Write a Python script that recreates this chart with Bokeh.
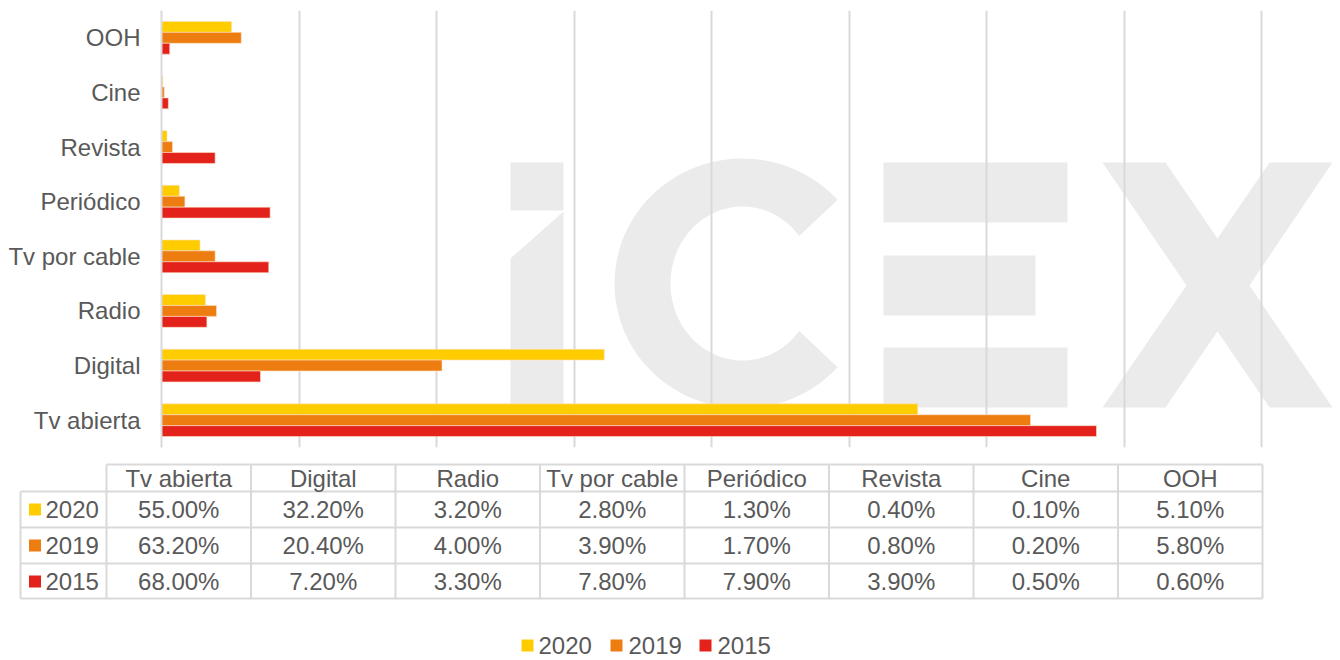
import numpy as np
from bokeh.plotting import figure
from bokeh.models import ColumnDataSource, FactorRange, Range1d, FixedTicker
from bokeh.transform import dodge
from bokeh.core.properties import value
from bokeh.embed import file_html
from bokeh.resources import INLINE

# ---------------- data ----------------
categories = ["Tv abierta", "Digital", "Radio", "Tv por cable", "Periódico", "Revista", "Cine", "OOH"]
series_names = ["2020", "2019", "2015"]
v2020 = [55.0, 32.2, 3.2, 2.8, 1.3, 0.4, 0.1, 5.1]
v2019 = [63.2, 20.4, 4.0, 3.9, 1.7, 0.8, 0.2, 5.8]
v2015 = [68.0, 7.2, 3.3, 7.8, 7.9, 3.9, 0.5, 0.6]
series_values = [v2020, v2019, v2015]
colors = ["#FFCC00", "#EE7D11", "#E3231B"]
grid_ticks = [0, 10, 20, 30, 40, 50, 60, 70, 80]

FONT = value("Liberation Sans")
TXT = "#595959"
LINE = "#D9D9D9"

# ---------------- chart ----------------
W = 1340
H1 = 455
p = figure(width=W, height=H1, output_backend="svg", toolbar_location=None,
           y_range=FactorRange(*categories), x_range=Range1d(0, (W - 161) / 13.75),
           min_border_left=161, min_border_right=0, min_border_top=10, min_border_bottom=8)
p.outline_line_color = None
p.background_fill_color = "white"
p.border_fill_color = "white"
p.xaxis.visible = False
p.ygrid.visible = False
p.xgrid.ticker = FixedTicker(ticks=grid_ticks)
p.xgrid.grid_line_color = LINE
p.xgrid.grid_line_width = 2

p.yaxis.axis_line_color = LINE
p.yaxis.axis_line_width = 2
p.yaxis.major_tick_line_color = None
p.yaxis.minor_tick_line_color = None
p.yaxis.major_label_text_font = "Liberation Sans"
p.yaxis.major_label_text_font_size = "24px"
p.yaxis.major_label_text_color = TXT
p.yaxis.major_label_standoff = 15

# watermark (decoration): page-pixel layout converted to the plot's coordinates
def wx(px):
    return (np.asarray(px, dtype=float) - 161) / 13.75
def wy(py):
    return (447 - np.asarray(py, dtype=float)) / 437 * 8

cx, cy = 742, 283
a_out = np.radians(np.linspace(42, 318, 80))
a_in = np.radians(np.linspace(322, 38, 80))
c_x = list(cx + 128 * np.cos(a_out)) + list(cx + 72 * np.cos(a_in))
c_y = list(cy - 125 * np.sin(a_out)) + list(cy - 77 * np.sin(a_in))
wm_xs = [
    [510, 563, 563, 510],
    [510, 563, 563, 510],
    c_x,
    [883, 1067, 1067, 883],
    [883, 1035, 1035, 883],
    [883, 1067, 1067, 883],
    [1102, 1165, 1217, 1269, 1332, 1249, 1332, 1269, 1217, 1165, 1102, 1186],
]
wm_ys = [
    [162, 162, 210, 210],
    [258, 211, 407, 407],
    c_y,
    [162, 162, 222, 222],
    [255, 255, 315, 315],
    [347, 347, 407, 407],
    [162, 162, 238, 162, 162, 285, 407, 407, 331, 407, 407, 285],
]
p.patches([list(wx(a)) for a in wm_xs], [list(wy(b)) for b in wm_ys],
          fill_color="#EBEBEB", line_color=None, level="image")

src = ColumnDataSource(dict(cat=categories, v2020=v2020, v2019=v2019, v2015=v2015))
offsets = [0.2, 0.0, -0.2]
for name, col, off in zip(series_names, colors, offsets):
    p.hbar(y=dodge("cat", off, range=p.y_range), left=0, right="v" + name, height=0.2,
           source=src, fill_color=col, line_color="#FBE3C8", line_width=0.6)

# ---------------- data table + legend ----------------
H2 = 660 - H1
def px2x(px):
    return (px - 106) / 144.5

t = figure(width=W, height=H2, output_backend="svg", toolbar_location=None,
           x_range=Range1d(px2x(0), px2x(W)), y_range=Range1d(660, 455),
           x_axis_location=None, y_axis_location=None,
           min_border_left=0, min_border_right=0, min_border_top=0, min_border_bottom=0)
t.outline_line_color = None
t.xgrid.visible = False
t.ygrid.visible = False

n = len(categories)
lx = px2x(20)
row_tops = [464, 491, 527, 563, 598]
hx0 = [0] + [lx] * 4
hx1 = [n] * 5
t.segment(x0=hx0, y0=row_tops, x1=hx1, y1=row_tops, line_color=LINE, line_width=2)
vx = list(range(n + 1)) + [lx]
vy0 = [464] * (n + 1) + [491]
vy1 = [598] * (n + 2)
t.segment(x0=vx, y0=vy0, x1=vx, y1=vy1, line_color=LINE, line_width=2)

centers = [i + 0.5 for i in range(n)]
t.text(x=centers, y=[478] * n, text=categories, text_font=FONT, text_font_size="24px",
       text_color=TXT, text_align="center", text_baseline="middle")
row_y = [509, 545, 581]
for vals, ry, name, col in zip(series_values, row_y, series_names, colors):
    t.text(x=centers, y=[ry] * n, text=[f"{v:.2f}%" for v in vals], text_font=FONT,
           text_font_size="24px", text_color=TXT, text_align="center", text_baseline="middle")
    t.scatter(x=[px2x(34.5)], y=[ry], marker="square", size=12, fill_color=col, line_color=None)
    t.text(x=[px2x(45)], y=[ry], text=[name], text_font=FONT, text_font_size="24px",
           text_color=TXT, text_align="left", text_baseline="middle")

# bottom legend
leg_sq = [527, 616, 705]
leg_tx = [538, 628, 717]
ly = 645
for name, col, sx, tx in zip(series_names, colors, leg_sq, leg_tx):
    t.scatter(x=[px2x(sx)], y=[ly], marker="square", size=12, fill_color=col, line_color=None)
    t.text(x=[px2x(tx)], y=[ly], text=[name], text_font=FONT, text_font_size="24px",
           text_color=TXT, text_align="left", text_baseline="middle")

open("out.html", "w").write(file_html([p, t], INLINE))
